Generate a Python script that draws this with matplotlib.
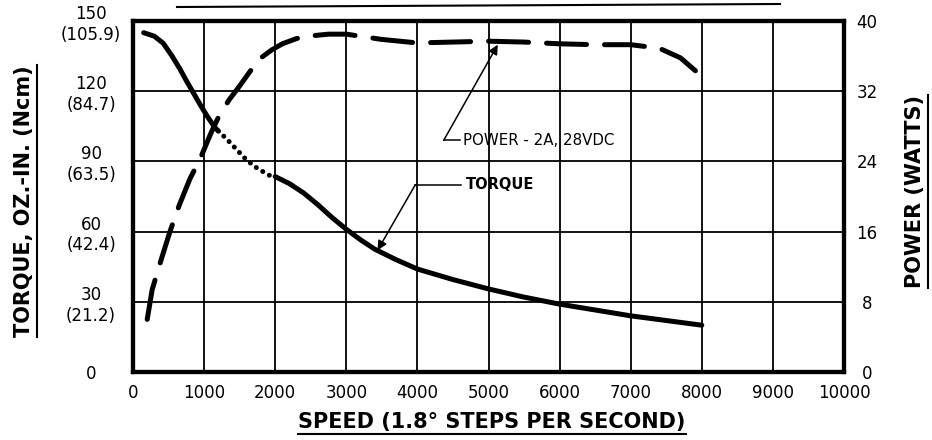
import matplotlib
matplotlib.use("Agg")
from matplotlib import pyplot as plt
from matplotlib.lines import Line2D

# axis ticks
speed_ticks = [0, 1000, 2000, 3000, 4000, 5000, 6000, 7000, 8000, 9000, 10000]
torque_ticks = [0, 30, 60, 90, 120, 150]
torque_tick_labels = ["0", "30\n(21.2)", "60\n(42.4)", "90\n(63.5)", "120\n(84.7)", "150\n(105.9)"]
power_ticks = [0, 8, 16, 24, 32, 40]

# torque curve, oz-in (solid / dotted / solid)
torque_speed_a = [150, 300, 425, 550, 660, 750, 845, 950, 1040, 1150, 1200]
torque_a = [145, 143.5, 140.5, 135, 129.5, 124.5, 119.5, 114, 109.5, 104.5, 103]
torque_speed_dots = [1200, 1320, 1460, 1600, 1750, 1950]
torque_dots = [103, 99.5, 95, 90.5, 87, 83.5]
torque_speed_b = [2000, 2200, 2400, 2600, 2800, 3000, 3200, 3400, 3700, 4000, 4500,
                  5000, 5500, 6000, 6500, 7000, 7500, 8000]
torque_b = [83.5, 80.5, 76.5, 71.5, 66, 61, 56.5, 52.5, 48, 44, 39.5,
            35.5, 32, 29, 26.5, 24, 22, 20]

# power curve, watts
power_speed = [200, 270, 400, 520, 650, 800, 950, 1100, 1200, 1350, 1500, 1650, 1800, 1950,
               2100, 2300, 2500, 2750, 3000, 3500, 4000, 4500, 5000, 5500, 6000, 6500, 7000,
               7400, 7700, 8000]
power = [6, 9.4, 12.9, 16, 19, 22, 24.4, 27.3, 29, 31, 32.6, 34.3, 35.8, 36.7,
         37.4, 38, 38.3, 38.5, 38.5, 37.9, 37.5, 37.6, 37.7, 37.6, 37.4, 37.3, 37.3,
         36.9, 35.8, 33.7]

PX = 1 / 1.389  # pixels -> points at dpi 100
plt.rcParams['font.family'] = ['DejaVu Sans']

fig = plt.figure(figsize=(9.32, 4.4), dpi=100)
fig.patch.set_facecolor('white')
W, H = 932, 440
ax = fig.add_axes([133 / W, 1 - 372 / H, (844 - 133) / W, (372 - 21) / H])
ax2 = ax.twinx()

ax.set_xlim(0, 10000)
ax.set_ylim(0, 150)
ax2.set_ylim(0, 40)

ax.set_xticks(speed_ticks)
ax.set_xticklabels([str(s) for s in speed_ticks])
ax.set_yticks(torque_ticks)
ax.set_yticklabels(torque_tick_labels)
ax2.set_yticks(power_ticks)
ax2.set_yticklabels([str(p) for p in power_ticks])

ax.grid(True, color='black', lw=1.3)
ax.set_axisbelow(True)
for a in (ax, ax2):
    for sp in a.spines.values():
        sp.set_linewidth(3)
        sp.set_color('black')

ax.tick_params(axis='x', length=0, pad=12 * PX, labelsize=12)
ax.tick_params(axis='y', length=0, pad=42 * PX, labelsize=12)
ax2.tick_params(axis='y', length=0, pad=23 * PX, labelsize=12)
for lab in ax.get_yticklabels():
    lab.set_ha('center')
    lab.set_multialignment('center')
for lab in ax2.get_yticklabels():
    lab.set_ha('center')

lw = 3.6
ax.plot(torque_speed_a, torque_a, color='black', lw=lw, solid_capstyle='round', solid_joinstyle='round')
ax.plot(torque_speed_dots, torque_dots, color='black', lw=lw, linestyle=(0, (0.01, 1.5)),
        dash_capstyle='round')
ax.plot(torque_speed_b, torque_b, color='black', lw=lw, solid_capstyle='round', solid_joinstyle='round')
ax2.plot(power_speed, power, color='black', lw=lw, linestyle=(0, (8, 3.6)),
         dash_capstyle='round', dash_joinstyle='round')

# callouts
arrow = dict(arrowstyle='-|>', color='black', lw=1.1, mutation_scale=14, shrinkA=0, shrinkB=0)
ax2.annotate("", xy=(5130, 37.3), xytext=(4370, 26.4), arrowprops=arrow)
ax2.plot([4370, 4600], [26.4, 26.4], color='black', lw=1.1)
ax2.text(4640, 26.4, "POWER - 2A, 28VDC", fontsize=10.8, va='center', ha='left')

ax.annotate("", xy=(3440, 52), xytext=(3970, 80), arrowprops=arrow)
ax.plot([3970, 4620], [80, 80], color='black', lw=1.1)
ax.text(4680, 80, "TORQUE", fontsize=10.5, fontweight='bold', va='center', ha='left')

# axis titles with underlines
t_left = fig.text(24 / W, 1 - 201 / H, "TORQUE, OZ.-IN. (Ncm)", rotation=90,
                  ha='center', va='center', fontsize=15, fontweight='bold')
t_right = fig.text(915 / W, 1 - 192 / H, "POWER (WATTS)", rotation=90,
                   ha='center', va='center', fontsize=15, fontweight='bold')
t_bottom = fig.text(492 / W, 1 - 422 / H, "SPEED (1.8\u00b0 STEPS PER SECOND)",
                    ha='center', va='center', fontsize=15, fontweight='bold')

fig.canvas.draw()
r = fig.canvas.get_renderer()
inv = fig.transFigure.inverted()
for t, side in ((t_left, 'right'), (t_right, 'right'), (t_bottom, 'bottom')):
    bb = t.get_window_extent(r).transformed(inv)
    if side == 'right':
        x = bb.x1 + 3 / W
        fig.add_artist(Line2D([x, x], [bb.y0, bb.y1], color='black', lw=1.5))
    else:
        y = bb.y0 - 2 / H
        fig.add_artist(Line2D([bb.x0, bb.x1], [y, y], color='black', lw=1.5))

# stray rule across the top of the sheet
fig.add_artist(Line2D([177 / W, 780 / W], [1 - 7 / H, 1 - 4 / H], color='black', lw=1.5))

fig.savefig("out.png", dpi=100)
